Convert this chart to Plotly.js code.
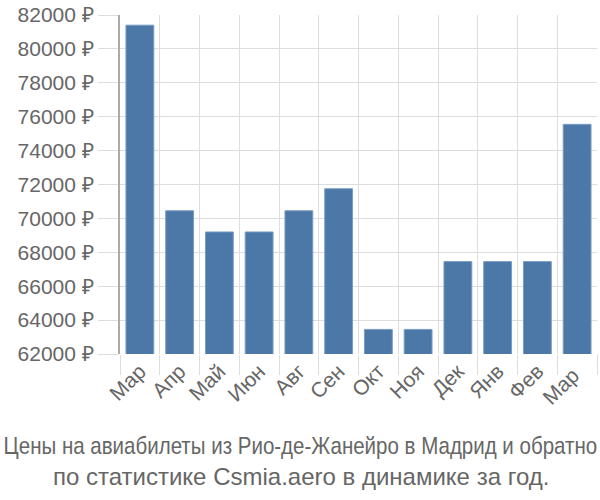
<!DOCTYPE html>
<html><head><meta charset="utf-8">
<script src="https://cdn.plot.ly/plotly-3.0.1.min.js"></script>
<style>body{margin:0}</style>
</head><body><div id="c" style="width:600px;height:500px"></div>
<script>
const months = ["Мар","Апр","Май","Июн","Авг","Сен","Окт","Ноя","Дек","Янв","Фев","Мар "];
const prices = [81400,70450,69200,69200,70450,71750,63450,63450,67450,67450,67450,75550];
const yTicks = [62000,64000,66000,68000,70000,72000,74000,76000,78000,80000,82000];
const yLabels = yTicks.map(v => v + ' ₽');
const titleLines = ["Цены на авиабилеты из Рио-де-Жанейро в Мадрид и обратно","по статистике Csmia.aero в динамике за год."];

Plotly.newPlot('c',[{
  type:'bar', x:months, y:prices,
  marker:{color:'#4c78a8', line:{color:'#7a9cc4', width:1}},
  hoverinfo:'none'
}],{
  width:600,height:500,
  margin:{l:120,r:3,t:15,b:146},
  bargap:0.3,
  font:{family:'Liberation Sans, Arial, sans-serif', color:'#666'},
  paper_bgcolor:'#fff', plot_bgcolor:'#fff',
  xaxis:{type:'category', tickson:'boundaries', ticks:'outside', ticklen:20, tickcolor:'#ddd',
    gridcolor:'#ddd', showgrid:true, tickangle:-45, tickfont:{size:21,color:'#666'}, zeroline:false},
  yaxis:{range:[62000,82000], tickvals:yTicks, ticktext:yLabels, ticks:'outside', ticklen:20, tickcolor:'#ddd',
    gridcolor:'#ddd', showline:true, linecolor:'#aaa', linewidth:2, tickfont:{size:21,color:'#666'}, zeroline:false},
  annotations:[
    {text:titleLines[0], xref:'paper', yref:'paper', x:0.5, xanchor:'center', y:-0.271, yanchor:'middle', showarrow:false, font:{size:24,color:'#666'}, xshift:-58},
    {text:titleLines[1], xref:'paper', yref:'paper', x:0.5, xanchor:'center', y:-0.36, yanchor:'middle', showarrow:false, font:{size:24,color:'#666'}, xshift:-58}
  ]
},{staticPlot:true}).then(gd => {
  const t = gd.querySelector('.annotation[data-index="0"] text');
  if (t) {
    const bb = t.getBBox();
    if (bb.width > 594) {
      const s = 594 / bb.width;
      const cx = bb.x + bb.width / 2;
      const prev = t.getAttribute('transform') || '';
      t.setAttribute('transform', prev + ' translate(' + cx + ',0) scale(' + s + ',1) translate(' + (-cx) + ',0)');
    }
  }
});
</script></body></html>
